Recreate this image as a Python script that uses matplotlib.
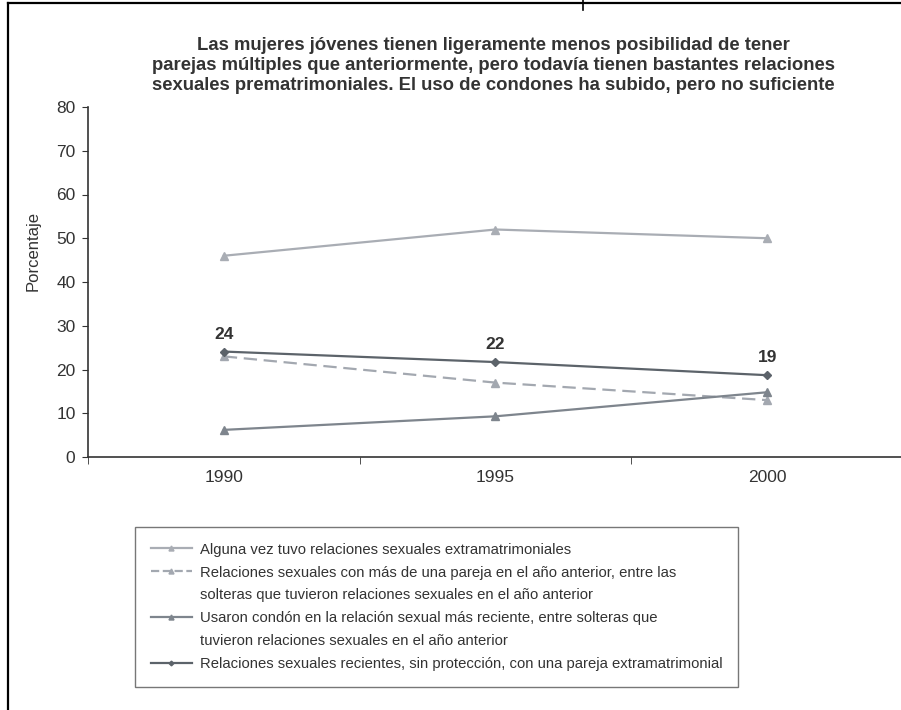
import matplotlib.pyplot as plt
from matplotlib.lines import Line2D
import numpy as np

plt.rcParams['font.family'] = ['Liberation Sans', 'DejaVu Sans']

years = ['1990', '1995', '2000']
alguna_vez = [46, 52, 50]
mas_de_una = [23, 17, 13]
condon = [6.2, 9.3, 14.8]
sin_proteccion = [24.1, 21.7, 18.7]

# each legend label as a list of its printed lines
labels = [
    ["Alguna vez tuvo relaciones sexuales extramatrimoniales"],
    ["Relaciones sexuales con más de una pareja en el año anterior, entre las",
     "solteras que tuvieron relaciones sexuales en el año anterior"],
    ["Usaron condón en la relación sexual más reciente, entre solteras que",
     "tuvieron relaciones sexuales en el año anterior"],
    ["Relaciones sexuales recientes, sin protección, con una pareja extramatrimonial"],
]

title = ("Las mujeres jóvenes tienen ligeramente menos posibilidad de tener\n"
         "parejas múltiples que anteriormente, pero todavía tienen bastantes relaciones\n"
         "sexuales prematrimoniales. El uso de condones ha subido, pero no suficiente")

text_col = '#333333'
W, H = 901, 710

fig = plt.figure(figsize=(W / 100, H / 100), dpi=100)
ax = fig.add_axes([88 / W, 1 - 457 / H, (903 - 88) / W, (457 - 107) / H])

x = np.arange(len(years))
lines = []
lines += ax.plot(x, alguna_vez, color='#a9adb4', lw=1.6, marker='^', ms=6)
lines += ax.plot(x, mas_de_una, color='#a3a8b0', lw=1.6, ls=(0, (6, 3)), marker='^', ms=6)
lines += ax.plot(x, condon, color='#7e858d', lw=1.6, marker='^', ms=6)
lines += ax.plot(x, sin_proteccion, color='#5c636a', lw=1.6, marker='D', ms=4)

for xi, v in zip(x, sin_proteccion):
    ax.annotate(f"{v:.0f}", (xi, v), xytext=(0, 7), textcoords='offset points',
                ha='center', va='bottom', fontsize=12.5, fontweight='bold', color=text_col)

ax.set_xlim(-0.5, 2.5)
ax.set_ylim(0, 80)
ax.set_yticks(range(0, 81, 10))
ax.set_xticks(x)
ax.set_xticklabels(years)
ax.set_xticks([-0.5, 0.5, 1.5], minor=True)
ax.tick_params(axis='x', which='major', length=0, pad=9)
ax.tick_params(axis='x', which='minor', length=5, color='#333333', direction='out')
ax.tick_params(axis='y', length=4, color='#333333', pad=5)
ax.tick_params(labelsize=12.5, labelcolor=text_col)
for s in ['top', 'right']:
    ax.spines[s].set_visible(False)
for s in ['left', 'bottom']:
    ax.spines[s].set_color('#333333')
    ax.spines[s].set_linewidth(1.2)

fig.text(33 / W, 1 - 251 / H, "Porcentaje", rotation=90, ha='center', va='center',
         fontsize=12, color=text_col)

fig.text(493 / W, 1 - 37 / H, title, ha='center', va='top', fontsize=13.3,
         fontweight='bold', color=text_col, linespacing=1.25)

# legend: handle on the first line of each label, blank handle for continuation lines
handles, texts = [], []
for ln, lab in zip(lines, labels):
    for i, part in enumerate(lab):
        if i == 0:
            h = Line2D([], [], color=ln.get_color(), lw=ln.get_linewidth(),
                       ls=ln.get_linestyle(), marker=ln.get_marker(),
                       ms=ln.get_markersize() * 0.6)
        else:
            h = Line2D([], [], color='none')
        handles.append(h)
        texts.append(part)

leg = fig.legend(handles, texts, loc='upper left', bbox_to_anchor=(135 / W, 1 - 527 / H),
                 frameon=True, fancybox=False, edgecolor='#777777', framealpha=1,
                 fontsize=10.7, labelspacing=0.6,
                 handlelength=2.8, handletextpad=0.5, borderpad=1.05,
                 borderaxespad=0, labelcolor=text_col)
leg.get_frame().set_linewidth(1.0)

# frame lines around the figure
fig.add_artist(Line2D([7.5 / W, 1], [1 - 3 / H, 1 - 3 / H], color='black', lw=1.6))
fig.add_artist(Line2D([7.5 / W, 7.5 / W], [0, 1 - 3 / H], color='black', lw=1.6))
fig.add_artist(Line2D([583 / W, 583 / W], [1, 1 - 10 / H], color='black', lw=1.2))

fig.savefig('out.png', dpi=100)
